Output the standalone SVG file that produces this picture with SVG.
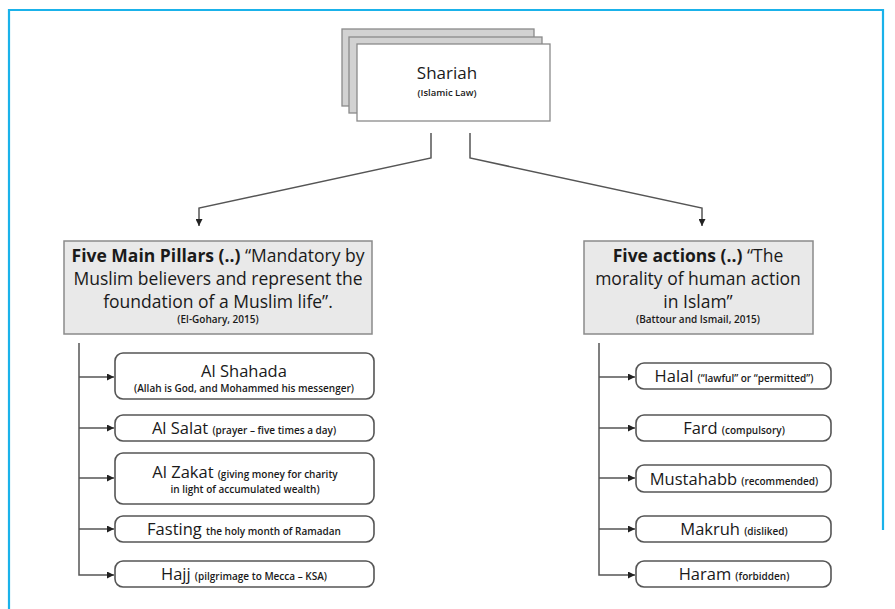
<svg xmlns="http://www.w3.org/2000/svg" width="895" height="609" viewBox="0 0 895 609">
<style>
text{font-family:"Open Sans","Liberation Sans",sans-serif;fill:#1a1a1a;text-anchor:middle}
.big{font-size:16.5px}
.sm{font-size:10px;font-weight:600}
.hd{font-size:17.5px}
.cite{font-size:10px;font-weight:600}
.b{font-weight:bold}
.card{fill:#d2d2d2;stroke:#8a8a8a;stroke-width:1.3}
.front{fill:#fff;stroke:#8a8a8a;stroke-width:1.3}
.head{fill:#e9e9e9;stroke:#8a8a8a;stroke-width:1.5}
.item{fill:#fff;stroke:#555;stroke-width:1.6}
.con{fill:none;stroke:#555;stroke-width:1.5}
</style>
<defs>
<marker id="ah" viewBox="0 0 10 10" refX="10" refY="5" markerWidth="7" markerHeight="7" markerUnits="userSpaceOnUse" orient="auto">
<path d="M0,0 L10,5 L0,10 z" fill="#222"/>
</marker>
</defs>
<rect width="895" height="609" fill="#fff"/>
<path d="M9,609 V10 H883 V530" fill="none" stroke="#1ab2ea" stroke-width="2.2"/>

<g id="shariah">
<rect class="card" x="342" y="29" width="192" height="77"/>
<rect class="card" x="349" y="37" width="193" height="76"/>
<rect class="front" x="357" y="44" width="193" height="77"/>
<text x="447" y="79" style="font-size:17px">Shariah</text>
<text x="447" y="96" style="font-size:9.5px;font-weight:600">(Islamic Law)</text>
</g>

<g id="connectors">
<path class="con" d="M431,133 V158 L199,208 V226" marker-end="url(#ah)"/>
<path class="con" d="M470,133 V158 L702,208 V226" marker-end="url(#ah)"/>
<path class="con" d="M79,343 V575 H114" marker-end="url(#ah)"/>
<path class="con" d="M79,377 H114" marker-end="url(#ah)"/>
<path class="con" d="M79,428 H114" marker-end="url(#ah)"/>
<path class="con" d="M79,478 H114" marker-end="url(#ah)"/>
<path class="con" d="M79,529 H114" marker-end="url(#ah)"/>
<path class="con" d="M599,343 V575 H635" marker-end="url(#ah)"/>
<path class="con" d="M599,377 H635" marker-end="url(#ah)"/>
<path class="con" d="M599,428 H635" marker-end="url(#ah)"/>
<path class="con" d="M599,478 H635" marker-end="url(#ah)"/>
<path class="con" d="M599,529 H635" marker-end="url(#ah)"/>
</g>

<g id="pillars">
<rect class="head" x="64" y="241" width="308" height="93"/>
<text class="hd" x="218" y="262"><tspan class="b">Five Main Pillars (..)</tspan> “Mandatory by</text>
<text class="hd" x="218" y="285">Muslim believers and represent the</text>
<text class="hd" x="218" y="308">foundation of a Muslim life”.</text>
<text class="cite" x="218" y="323">(El-Gohary, 2015)</text>
</g>

<g id="actions">
<rect class="head" x="584" y="241" width="229" height="93"/>
<text class="hd" x="698" y="262"><tspan class="b">Five actions (..)</tspan> “The</text>
<text class="hd" x="698" y="285">morality of human action</text>
<text class="hd" x="698" y="308">in Islam”</text>
<text class="cite" x="698" y="323">(Battour and Ismail, 2015)</text>
</g>

<g id="shahada">
<rect class="item" x="115" y="353" width="259" height="46" rx="8"/>
<text class="big" x="244" y="377">Al Shahada</text>
<text class="sm" x="244" y="392">(Allah is God, and Mohammed his messenger)</text>
</g>
<g id="salat">
<rect class="item" x="115" y="415" width="259" height="26" rx="8"/>
<text x="244" y="434"><tspan class="big">Al Salat</tspan> <tspan class="sm">(prayer – five times a day)</tspan></text>
</g>
<g id="zakat">
<rect class="item" x="115" y="453" width="259" height="51" rx="8"/>
<text x="245" y="478"><tspan class="big">Al Zakat</tspan> <tspan class="sm">(giving money for charity</tspan></text>
<text class="sm" x="245" y="493">in light of accumulated wealth)</text>
</g>
<g id="fasting">
<rect class="item" x="115" y="516" width="259" height="26" rx="8"/>
<text x="244" y="535"><tspan class="big">Fasting</tspan> <tspan class="sm">the holy month of Ramadan</tspan></text>
</g>
<g id="hajj">
<rect class="item" x="115" y="561" width="259" height="26" rx="8"/>
<text x="244" y="580"><tspan class="big">Hajj</tspan> <tspan class="sm">(pilgrimage to Mecca – KSA)</tspan></text>
</g>

<g id="halal">
<rect class="item" x="636" y="363" width="195" height="26" rx="8"/>
<text x="734" y="382"><tspan class="big">Halal</tspan> <tspan class="sm">(“lawful” or “permitted”)</tspan></text>
</g>
<g id="fard">
<rect class="item" x="636" y="415" width="195" height="26" rx="8"/>
<text x="734" y="434"><tspan class="big">Fard</tspan> <tspan class="sm">(compulsory)</tspan></text>
</g>
<g id="mustahabb">
<rect class="item" x="636" y="465" width="195" height="27" rx="8"/>
<text x="734" y="485"><tspan class="big">Mustahabb</tspan> <tspan class="sm">(recommended)</tspan></text>
</g>
<g id="makruh">
<rect class="item" x="636" y="516" width="195" height="26" rx="8"/>
<text x="734" y="535"><tspan class="big">Makruh</tspan> <tspan class="sm">(disliked)</tspan></text>
</g>
<g id="haram">
<rect class="item" x="636" y="561" width="195" height="26" rx="8"/>
<text x="734" y="580"><tspan class="big">Haram</tspan> <tspan class="sm">(forbidden)</tspan></text>
</g>
</svg>
